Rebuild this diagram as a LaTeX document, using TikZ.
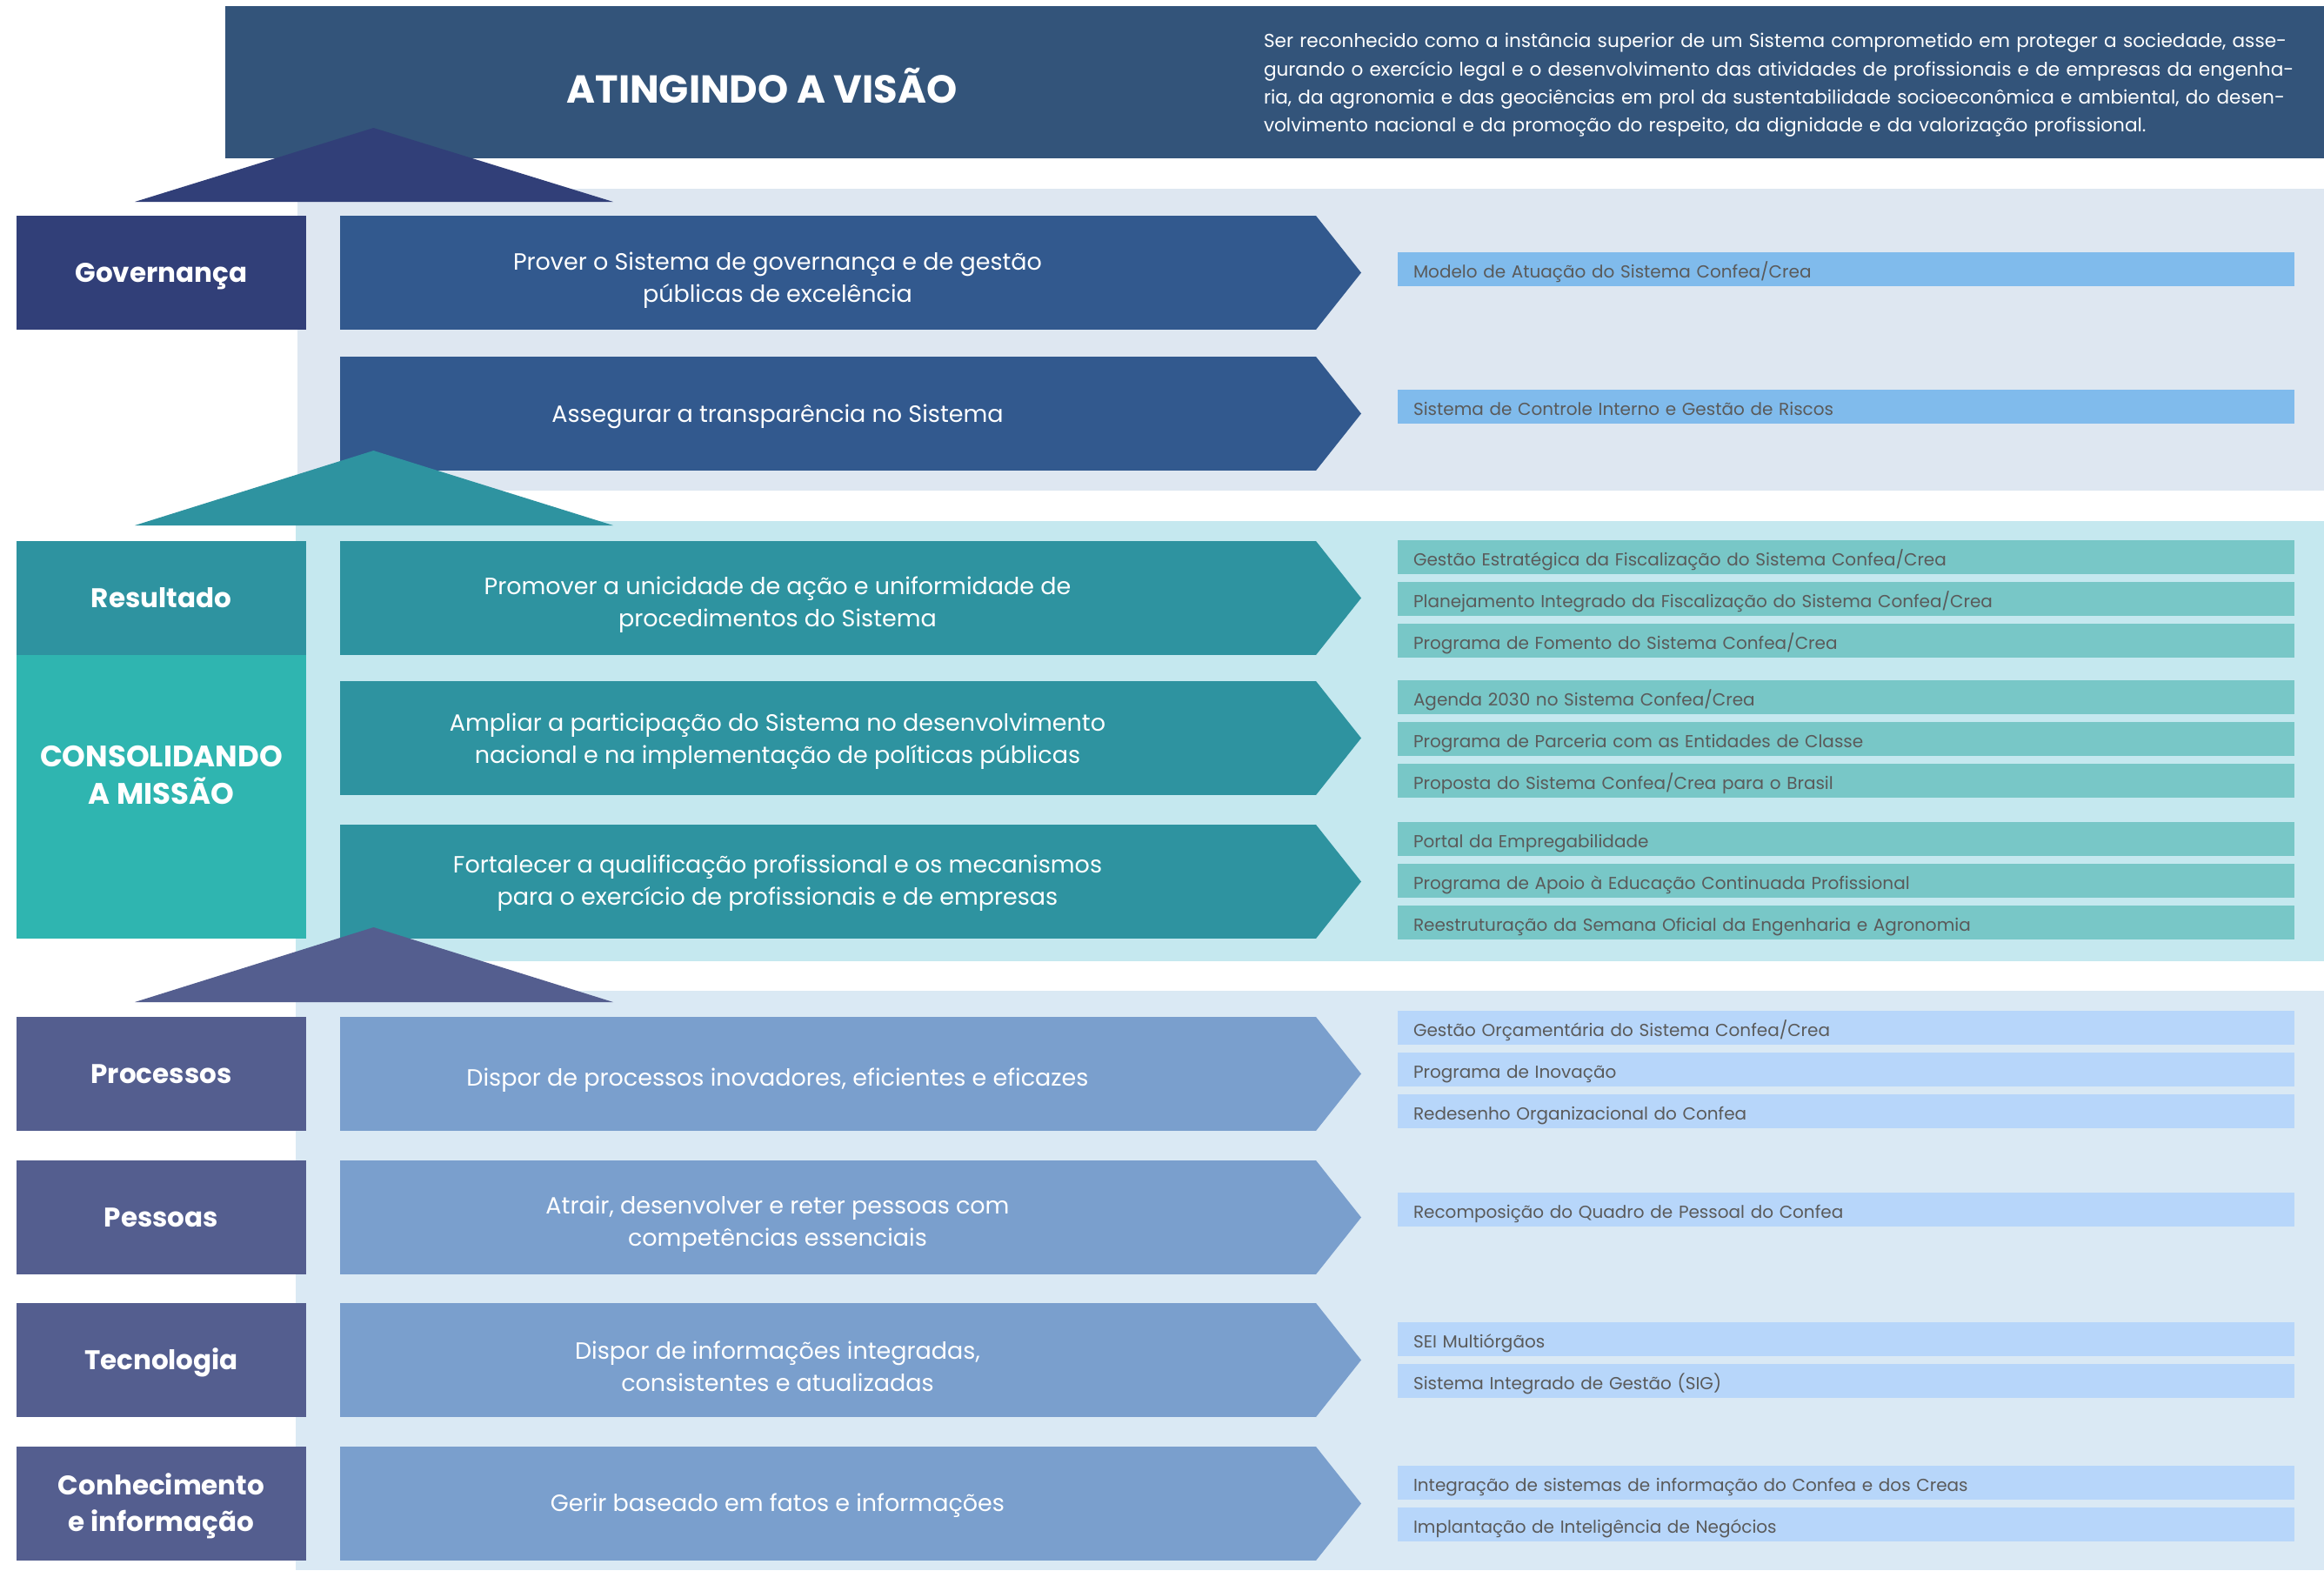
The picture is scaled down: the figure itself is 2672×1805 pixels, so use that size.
\documentclass[tikz,border=0pt]{standalone}
\usepackage{fontspec}
\setmainfont{Poppins}
\usetikzlibrary{positioning,calc}

\definecolor{visao}{HTML}{33547A}
\definecolor{govdark}{HTML}{313F78}
\definecolor{govarrow}{HTML}{32598E}
\definecolor{govband}{HTML}{DEE7F1}
\definecolor{govitem}{HTML}{80BBEC}
\definecolor{resdark}{HTML}{2E93A0}
\definecolor{reslight}{HTML}{2FB5B0}
\definecolor{resband}{HTML}{C5E8EF}
\definecolor{resitem}{HTML}{78C7C7}
\definecolor{procdark}{HTML}{545E8F}
\definecolor{procarrow}{HTML}{7A9FCD}
\definecolor{procband}{HTML}{DAE9F4}
\definecolor{procitem}{HTML}{B7D6FA}
\definecolor{itemtext}{HTML}{5A5A5A}

\begin{document}
\begin{tikzpicture}[x=1pt,y=-1pt,inner sep=0pt,outer sep=0pt]
    \tikzstyle{pillar}=[rectangle,anchor=north west,minimum width=333pt,text height=22pt,text depth=0pt,text=white,align=center,font=\bfseries\fontsize{31}{42}\selectfont]
    \tikzstyle{goal}=[rectangle,anchor=north west,minimum width=1122pt,minimum height=131pt]
    \tikzstyle{goaltext}=[text=white,align=center,font=\fontsize{27}{37.5}\selectfont]
    \tikzstyle{project}=[rectangle,anchor=north west,minimum height=39pt,text height=21pt,text depth=2pt,inner xsep=18pt,text width=995pt,align=left,text=itemtext,font=\fontsize{20}{24}\selectfont]

    \useasboundingbox (0,0) rectangle (2672,1805);
    \fill[white] (0,0) rectangle (2672,1805);

    % bands
    \fill[govband] (342,217) rectangle (2672,564);
    \fill[resband] (340,599) rectangle (2672,1105);
    \fill[procband] (340,1139) rectangle (2672,1805);

    % vision
    \node[fill=visao,anchor=north west,minimum width=2413pt,minimum height=175pt] (top) at (259,7) {};
    \node[text=white,font=\bfseries\fontsize{44.8}{50}\selectfont] (visao) at (876,99) {ATINGINDO A VISÃO};
    \node[text=white,anchor=west,text width=1180pt,align=left,font=\fontsize{21.6}{32.4}\selectfont] (texto) at (1453,98)
        {\makebox[1176pt][s]{Ser reconhecido como a instância superior de um Sistema comprometido em proteger a sociedade, asse-}\\
         \makebox[1176pt][s]{gurando o exercício legal e o desenvolvimento das atividades de profissionais e de empresas da engenha-}\\
         \makebox[1176pt][s]{ria, da agronomia e das geociências em prol da sustentabilidade socioeconômica e ambiental, do desen-}\\
         volvimento nacional e da promoção do respeito, da dignidade e da valorização profissional.};

    % governanca
    \node[pillar,fill=govdark,minimum height=131pt] (gov) at (19,248) {Governança};
    \node[goal,fill=govarrow] (g1) at (391,248) {};
    \fill[govarrow] (g1.north east) -- ($(g1.east)+(52,0)$) -- (g1.south east) -- cycle;
    \node[goaltext] (g1t) at (894,322) {Prover o Sistema de governança e de gestão\\públicas de excelência};
    \node[goal,fill=govarrow] (g2) at (391,410) {};
    \fill[govarrow] (g2.north east) -- ($(g2.east)+(52,0)$) -- (g2.south east) -- cycle;
    \node[goaltext] (g2t) at (894,479) {Assegurar a transparência no Sistema};
    \node[project,fill=govitem] (p1) at (1607,290) {Modelo de Atuação do Sistema Confea/Crea};
    \node[project,fill=govitem] (p2) at (1607,448) {Sistema de Controle Interno e Gestão de Riscos};

    % resultado
    \node[pillar,fill=resdark,minimum height=131pt] (res) at (19,622) {Resultado};
    \node[pillar,fill=reslight,minimum height=326pt] (missao) at (19,753) {};
    \node[text=white,align=center,font=\bfseries\fontsize{34}{42.6}\selectfont] (missaot) at (185.5,891) {CONSOLIDANDO\\A MISSÃO};
    \node[goal,fill=resdark] (g3) at (391,622) {};
    \fill[resdark] (g3.north east) -- ($(g3.east)+(52,0)$) -- (g3.south east) -- cycle;
    \node[goaltext] (g3t) at (894,695) {Promover a unicidade de ação e uniformidade de\\procedimentos do Sistema};
    \node[goal,fill=resdark] (g4) at (391,783) {};
    \fill[resdark] (g4.north east) -- ($(g4.east)+(52,0)$) -- (g4.south east) -- cycle;
    \node[goaltext] (g4t) at (894,852) {Ampliar a participação do Sistema no desenvolvimento\\nacional e na implementação de políticas públicas};
    \node[goal,fill=resdark] (g5) at (391,948) {};
    \fill[resdark] (g5.north east) -- ($(g5.east)+(52,0)$) -- (g5.south east) -- cycle;
    \node[goaltext] (g5t) at (894,1015) {Fortalecer a qualificação profissional e os mecanismos\\para o exercício de profissionais e de empresas};
    \node[project,fill=resitem] (p3) at (1607,621) {Gestão Estratégica da Fiscalização do Sistema Confea/Crea};
    \node[project,fill=resitem] (p4) at (1607,669) {Planejamento Integrado da Fiscalização do Sistema Confea/Crea};
    \node[project,fill=resitem] (p5) at (1607,717) {Programa de Fomento do Sistema Confea/Crea};
    \node[project,fill=resitem] (p6) at (1607,782) {Agenda 2030 no Sistema Confea/Crea};
    \node[project,fill=resitem] (p7) at (1607,830) {Programa de Parceria com as Entidades de Classe};
    \node[project,fill=resitem] (p8) at (1607,878) {Proposta do Sistema Confea/Crea para o Brasil};
    \node[project,fill=resitem] (p9) at (1607,945) {Portal da Empregabilidade};
    \node[project,fill=resitem] (p10) at (1607,993) {Programa de Apoio à Educação Continuada Profissional};
    \node[project,fill=resitem] (p11) at (1607,1041) {Reestruturação da Semana Oficial da Engenharia e Agronomia};

    % processos
    \node[pillar,fill=procdark,minimum height=131pt] (proc) at (19,1169) {Processos};
    \node[pillar,fill=procdark,minimum height=131pt] (pess) at (19,1334) {Pessoas};
    \node[pillar,fill=procdark,minimum height=131pt] (tec) at (19,1498) {Tecnologia};
    \node[pillar,fill=procdark,minimum height=131pt,text height=64pt] (conh) at (19,1663) {Conhecimento\\e informação};
    \node[goal,fill=procarrow] (g6) at (391,1169) {};
    \fill[procarrow] (g6.north east) -- ($(g6.east)+(52,0)$) -- (g6.south east) -- cycle;
    \node[goaltext] (g6t) at (894,1242) {Dispor de processos inovadores, eficientes e eficazes};
    \node[goal,fill=procarrow] (g7) at (391,1334) {};
    \fill[procarrow] (g7.north east) -- ($(g7.east)+(52,0)$) -- (g7.south east) -- cycle;
    \node[goaltext] (g7t) at (894,1407) {Atrair, desenvolver e reter pessoas com\\competências essenciais};
    \node[goal,fill=procarrow] (g8) at (391,1498) {};
    \fill[procarrow] (g8.north east) -- ($(g8.east)+(52,0)$) -- (g8.south east) -- cycle;
    \node[goaltext] (g8t) at (894,1571) {Dispor de informações integradas,\\consistentes e atualizadas};
    \node[goal,fill=procarrow] (g9) at (391,1663) {};
    \fill[procarrow] (g9.north east) -- ($(g9.east)+(52,0)$) -- (g9.south east) -- cycle;
    \node[goaltext] (g9t) at (894,1731) {Gerir baseado em fatos e informações};
    \node[project,fill=procitem] (p12) at (1607,1162) {Gestão Orçamentária do Sistema Confea/Crea};
    \node[project,fill=procitem] (p13) at (1607,1210) {Programa de Inovação};
    \node[project,fill=procitem] (p14) at (1607,1258) {Redesenho Organizacional do Confea};
    \node[project,fill=procitem] (p15) at (1607,1371) {Recomposição do Quadro de Pessoal do Confea};
    \node[project,fill=procitem] (p16) at (1607,1520) {SEI Multiórgãos};
    \node[project,fill=procitem] (p17) at (1607,1568) {Sistema Integrado de Gestão (SIG)};
    \node[project,fill=procitem] (p18) at (1607,1685) {Integração de sistemas de informação do Confea e dos Creas};
    \node[project,fill=procitem] (p19) at (1607,1733) {Implantação de Inteligência de Negócios};

    % roofs
    \fill[govdark] (155,232) -- (429.5,147) -- (705,232) -- cycle;
    \fill[resdark] (155,604) -- (429.5,518) -- (705,604) -- cycle;
    \fill[procdark] (155,1152) -- (429.5,1066) -- (705,1152) -- cycle;
\end{tikzpicture}
\end{document}
